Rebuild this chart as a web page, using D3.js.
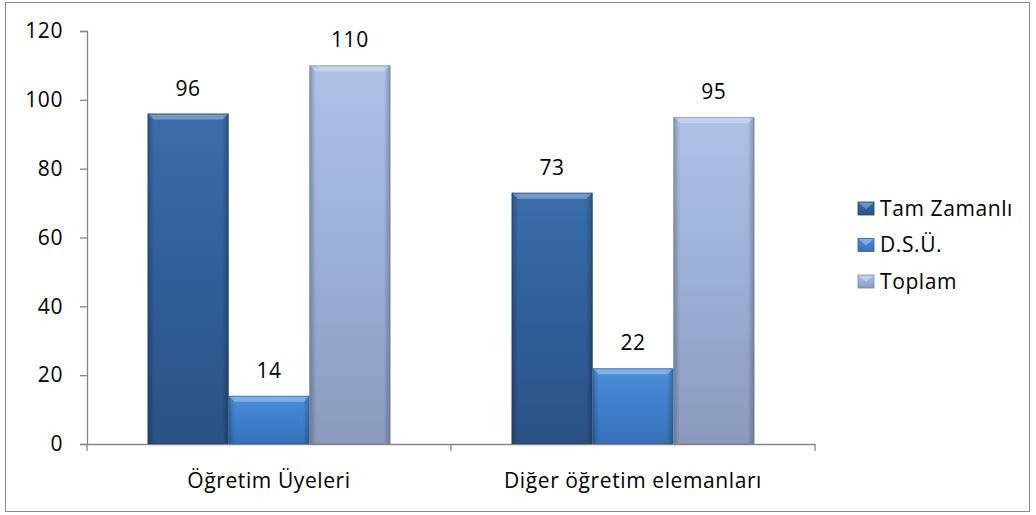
<!DOCTYPE html>
<html><head><meta charset="utf-8">
<script src="https://cdn.jsdelivr.net/npm/d3@7"></script>
<style>body{margin:0;background:#fff}svg{display:block}</style>
</head><body>
<script>
const categories = ["Öğretim Üyeleri", "Diğer öğretim elemanları"];
const seriesNames = ["Tam Zamanlı", "D.S.Ü.", "Toplam"];
const tamZamanli = [96, 73];
const dsu = [14, 22];
const toplam = [110, 95];
const yTicks = [0, 20, 40, 60, 80, 100, 120];

const seriesValues = [tamZamanli, dsu, toplam];
const W = 1036, H = 515;
const font = "'Open Sans', 'Liberation Sans', sans-serif";
const FS = 21, LS = 0.6;
const svg = d3.select("body").append("svg").attr("width", W).attr("height", H);

const colors = [
  {top:"#3a6dab", mid:"#2f5e98", bot:"#2a5185", edge:"#22426e"},
  {top:"#4f8fda", mid:"#3f7fcb", bot:"#3670b8", edge:"#2c5e9c"},
  {top:"#aec2e6", mid:"#9bb0d6", bot:"#8a9abc", edge:"#7585a8"}
];
const defs = svg.append("defs");
colors.forEach((c, i) => {
  const g = defs.append("linearGradient").attr("id", "v" + i).attr("x1", 0).attr("x2", 0).attr("y1", 0).attr("y2", 1);
  g.append("stop").attr("offset", "0%").attr("stop-color", c.top);
  g.append("stop").attr("offset", "50%").attr("stop-color", c.mid);
  g.append("stop").attr("offset", "100%").attr("stop-color", c.bot);
});
const hg = defs.append("linearGradient").attr("id", "hedge").attr("x1", 0).attr("x2", 1).attr("y1", 0).attr("y2", 0);
hg.append("stop").attr("offset", "0%").attr("stop-color", "#000").attr("stop-opacity", 0.25);
hg.append("stop").attr("offset", "8%").attr("stop-color", "#000").attr("stop-opacity", 0);
hg.append("stop").attr("offset", "92%").attr("stop-color", "#000").attr("stop-opacity", 0);
hg.append("stop").attr("offset", "100%").attr("stop-color", "#000").attr("stop-opacity", 0.25);

const styleText = sel => sel.attr("font-family", font).attr("font-size", FS)
  .attr("letter-spacing", LS).attr("fill", "#000");

// outer border
svg.append("rect").attr("x", 5.5).attr("y", 2.5).attr("width", 1024).attr("height", 509)
  .attr("fill", "none").attr("stroke", "#8c8c8c").attr("stroke-width", 1);

const plot = {left: 87, right: 815, top: 31, bottom: 444};
const x0 = d3.scaleBand().domain(categories).range([plot.left, plot.right]).paddingInner(0).paddingOuter(0);
const y = d3.scaleLinear().domain([0, 120]).range([plot.bottom, plot.top]);
// gap width 150% -> group occupies 3/(3+1.5)
const groupW = x0.bandwidth() * 3 / 4.5;
const x1 = d3.scaleBand().domain(seriesNames).range([0, groupW]).padding(0);

const axisColor = "#868686";
// y axis
const yAxis = svg.append("g").attr("transform", `translate(${plot.left},0)`)
  .call(d3.axisLeft(y).tickValues(yTicks).tickSize(7).tickPadding(17));
yAxis.select(".domain").attr("stroke", axisColor).attr("stroke-width", 1.3);
yAxis.selectAll(".tick line").attr("stroke", axisColor).attr("stroke-width", 1.3);
yAxis.selectAll("text").call(styleText);

// x axis
const xAxis = svg.append("g").attr("transform", `translate(0,${plot.bottom})`)
  .call(d3.axisBottom(x0).tickSize(0).tickPadding(29));
xAxis.select(".domain").attr("stroke", axisColor).attr("stroke-width", 1.3);
xAxis.selectAll("text").call(styleText);
const sepTicks = [plot.left, ...categories.map(c => x0(c) + x0.bandwidth())];
svg.append("g").selectAll("line").data(sepTicks).join("line")
  .attr("x1", d => d).attr("x2", d => d).attr("y1", plot.bottom).attr("y2", plot.bottom + 7)
  .attr("stroke", axisColor).attr("stroke-width", 1.3);

// bars
const bars = [];
categories.forEach((c, ci) => {
  seriesNames.forEach((s, si) => {
    bars.push({c, s, si, v: seriesValues[si][ci]});
  });
});
const bg = svg.append("g");
const bar = bg.selectAll("g.bar").data(bars).join("g").attr("class", "bar");
const bx = d => x0(d.c) + (x0.bandwidth() - groupW) / 2 + x1(d.s);
bar.append("rect")
  .attr("x", d => bx(d)).attr("y", d => y(d.v))
  .attr("width", x1.bandwidth()).attr("height", d => y(0) - y(d.v))
  .attr("fill", d => `url(#v${d.si})`);
bar.append("rect")
  .attr("x", d => bx(d)).attr("y", d => y(d.v))
  .attr("width", x1.bandwidth()).attr("height", d => y(0) - y(d.v))
  .attr("fill", "url(#hedge)");
// top bevel highlight
bar.append("path")
  .attr("d", d => {
    const x = bx(d), w = x1.bandwidth(), t = y(d.v), b = 6;
    return `M${x},${t}L${x + w},${t}L${x + w - b},${t + b}L${x + b},${t + b}Z`;
  })
  .attr("fill", "#fff").attr("fill-opacity", 0.3);
bar.append("rect")
  .attr("x", d => bx(d) + 0.5).attr("y", d => y(d.v) + 0.5)
  .attr("width", x1.bandwidth() - 1).attr("height", d => y(0) - y(d.v) - 1)
  .attr("fill", "none").attr("stroke", d => colors[d.si].edge).attr("stroke-opacity", 0.6);
// labels
bar.append("text")
  .attr("x", d => bx(d) + x1.bandwidth() / 2).attr("y", d => y(d.v) - 18)
  .attr("text-anchor", "middle").call(styleText)
  .text(d => d.v);

// legend
const lg = svg.append("g").attr("transform", "translate(858,208)");
const li = lg.selectAll("g").data(seriesNames).join("g").attr("transform", (d, i) => `translate(0,${i * 36.5})`);
li.append("rect").attr("x", 0).attr("y", -6).attr("width", 16).attr("height", 13)
  .attr("fill", (d, i) => `url(#v${i})`).attr("stroke", (d, i) => colors[i].edge).attr("stroke-width", 0.8);
li.append("path").attr("d", "M0.5,-5.5L15.5,-5.5L8,1Z").attr("fill", "#fff").attr("fill-opacity", 0.3);
li.append("text").attr("x", 22).attr("y", 0).attr("dy", "0.36em").call(styleText).text(d => d);
</script>
</body></html>
